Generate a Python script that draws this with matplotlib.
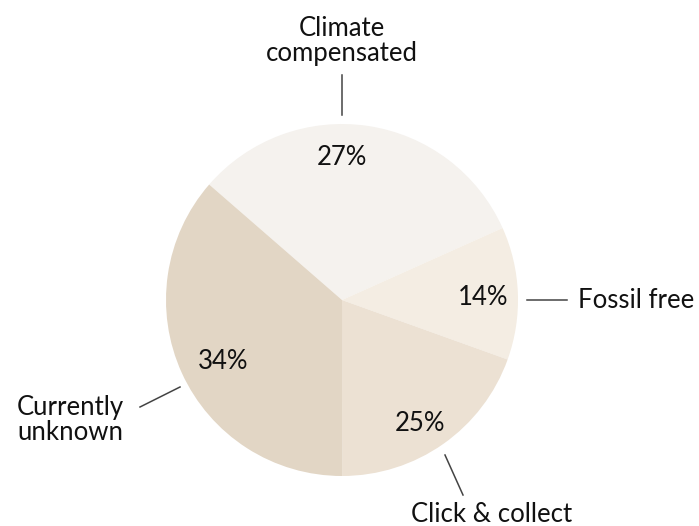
import numpy as np
import matplotlib.pyplot as plt

# slice order: clockwise from upper left
categories = ['Climate\ncompensated', 'Fossil free', 'Click & collect', 'Currently\nunknown']
pct_labels = ['27%', '14%', '25%', '34%']
# wedge shares as drawn in the picture
shares = [31.9, 12.2, 19.5, 36.4]
colors = ['#f5f2ee', '#f4ede3', '#ece1d3', '#e2d6c5']

plt.rcParams['font.family'] = ['Lato', 'DejaVu Sans']

W, H = 699, 526
fig = plt.figure(figsize=(W/100, H/100), dpi=100)
ax = fig.add_axes([0, 0, 1, 1])

cx, cy, r = 342, H-300, 176
wedges, _ = ax.pie(shares, colors=colors, startangle=139, counterclock=False,
                   center=(cx, cy), radius=r, frame=True,
                   wedgeprops=dict(linewidth=0))

# percentage labels inside slices
lab_ang = [90, 1, -57.5, 207.5]
lab_rad = [0.81, 0.80, 0.83, 0.76]
for t, a, rr in zip(pct_labels, lab_ang, lab_rad):
    ax.text(cx + rr*r*np.cos(np.radians(a)), cy + rr*r*np.sin(np.radians(a)), t,
            ha='center', va='center', fontsize=18.5, color='#111111')

# outer labels with leader lines (pixel positions, y from top)
lines = [((342, 75), (342, 115)), ((527, 300), (567, 300)),
         ((445, 455), (463, 495)), ((140, 407), (180, 387))]
txt_pos = [(342, 41, 'center'), (578, 301, 'left'), (492, 514, 'center'), (17, 420, 'left')]
for (p0, p1), (tx, ty, ha), name in zip(lines, txt_pos, categories):
    ax.plot([p0[0], p1[0]], [H-p0[1], H-p1[1]], color='#444444', lw=1.1)
    ax.text(tx, H-ty, name, ha=ha, va='center', fontsize=18.5, color='#111111',
            linespacing=1.05)

ax.set_xlim(0, W)
ax.set_ylim(0, H)
ax.set_aspect('equal')
ax.axis('off')
fig.savefig('out.png', dpi=100, facecolor='white')
